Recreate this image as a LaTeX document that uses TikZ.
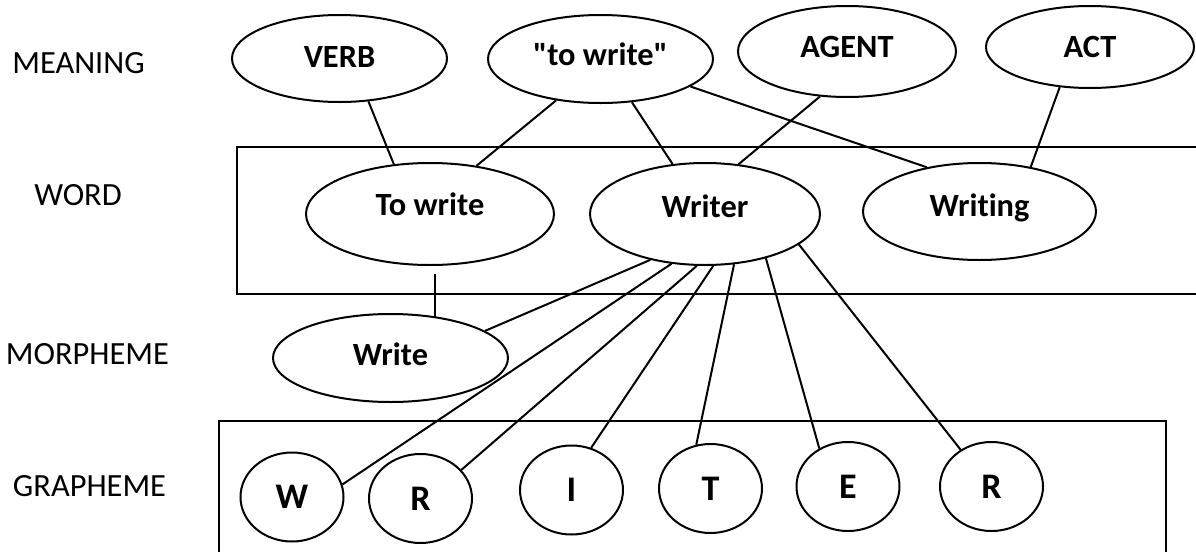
\documentclass[tikz,border=0pt]{standalone}
\usepackage{fontspec}
\setmainfont{Carlito}[Ligatures={NoCommon,TeXOff}]
\usetikzlibrary{shapes.geometric}
\tikzset{
    level/.style={font=\fontsize{16.2}{19}\selectfont, text height=10.4pt, text depth=0pt, inner sep=0pt},
    concept/.style={ellipse, draw, line width=1pt, inner sep=0pt, font=\bfseries\fontsize{16.2}{19}\selectfont, text height=10.4pt},
    letter/.style={concept, font=\bfseries\fontsize{18}{21}\selectfont, text height=11.6pt, text depth=0pt, minimum width=51.5pt, minimum height=44.5pt},
    link/.style={line width=1pt}
}

\begin{document}
\begin{tikzpicture}[x=0.5pt, y=-0.5pt]
\useasboundingbox (0,0) rectangle (1196,552);

% Level names
\node[level] (lmeaning) at (78.5,63) {MEANING};
\node[level] (lword) at (78,195) {WORD};
\node[level] (lmorph) at (87.5,354) {MORPHEME};
\node[level] (lgraph) at (89.5,486) {GRAPHEME};

% Frames
\draw[link] (1198,147) -| (237,294) -- (1198,294);
\draw[link] (219,555) |- (1166,421) -- (1166,555);

% Meaning
\node[concept, text depth=1.5pt, minimum width=107.5pt, minimum height=43.5pt] (verb) at (339.5,58.5) {VERB};
\node[concept, text depth=4pt, minimum width=112.5pt, minimum height=44pt] (gloss) at (600.5,59) {"to write"};
\node[concept, text depth=4.5pt, minimum width=109pt, minimum height=45.5pt] (agent) at (847,51.5) {AGENT};
\node[concept, text depth=0pt, minimum width=104pt, minimum height=41pt] (act) at (1090,47) {ACT};

% Words
\node[concept, text depth=9pt, minimum width=124pt, minimum height=51pt] (towrite) at (430,214) {To write};
\node[concept, text depth=7pt, minimum width=115pt, minimum height=51pt] (writer) at (705,214) {Writer};
\node[concept, text depth=5pt, minimum width=116.5pt, minimum height=48.5pt] (writing) at (979.5,211.5) {Writing};

% Morpheme
\node[concept, text depth=3pt, minimum width=117.5pt, minimum height=44pt] (write) at (390.5,358) {Write};

% Graphemes
\node[letter] (gW) at (292,497) {W};
\node[letter] (gR) at (420.5,498.5) {R};
\node[letter] (gI) at (571.5,490) {I};
\node[letter] (gT) at (710.5,488.5) {T};
\node[letter] (gE) at (848,486.5) {E};
\node[letter] (gRb) at (991.5,486.5) {R};

% Meaning to word
\draw[link] (verb.304) -- (towrite.126);
\draw[link] (gloss.223) -- (towrite.46);
\draw[link] (gloss.306) -- (writer.123);
\draw[link] (gloss.343) -- (writing.140);
\draw[link] (agent.239) -- (writer.56);
\draw[link] (act.233) -- (writing.41);

% Word to morpheme
\draw[link] ([shift={(5,8)}]towrite.south) -- ([shift={(5,0)}]towrite.south |- write.42);
\draw[link] (writer.220) -- (write.16);

% Word to graphemes
\draw[link] (writer.236) -- (gW.14);
\draw[link] (writer.261) -- (gR.35);
\draw[link] (writer.279) -- (gI.65);
\draw[link] (writer.300) -- (gT.108);
\draw[link] (writer.324) -- (gE.127);
\draw[link] (writer.342) -- (gRb.130);
\end{tikzpicture}
\end{document}
